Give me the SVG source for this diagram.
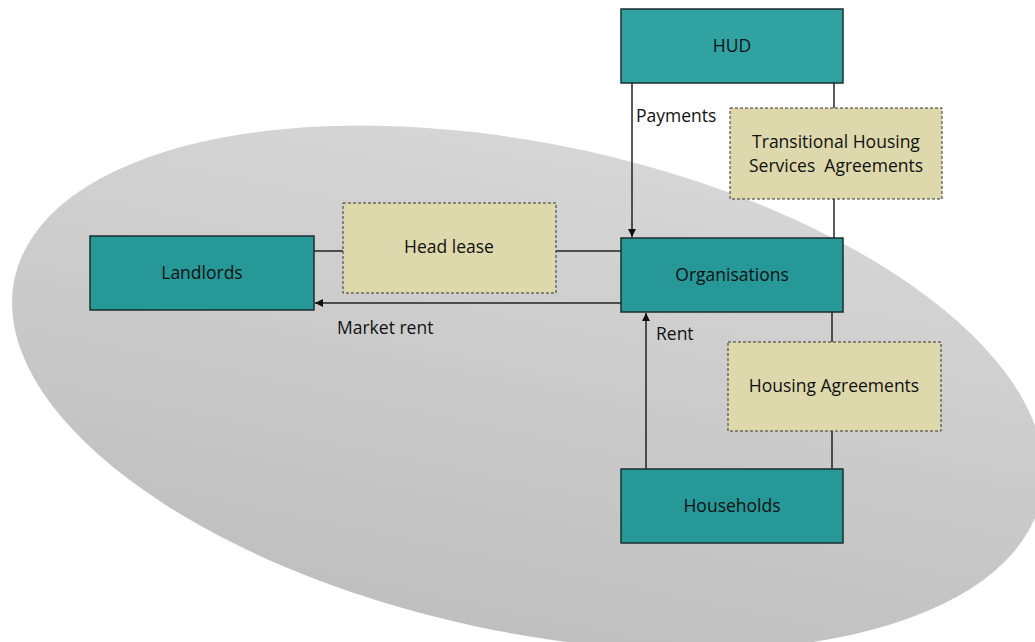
<svg xmlns="http://www.w3.org/2000/svg" width="1035" height="642" viewBox="0 0 1035 642">
<defs>
<linearGradient id="bg" x1="0" y1="0" x2="0" y2="1">
<stop offset="0" stop-color="#d6d6d6"/>
<stop offset="1" stop-color="#bfbfbf"/>
</linearGradient>
<marker id="ah" viewBox="0 0 10 10" refX="10" refY="5" markerWidth="8" markerHeight="8" markerUnits="userSpaceOnUse" orient="auto">
<path d="M0,0 L10,5 L0,10 z" fill="#111"/>
</marker>
<style>
.node{fill:#279898;stroke:#1b2e2e;stroke-width:1.5}
.hud{fill:#31a2a2}
.agr{fill:#ded8ad;stroke:#333;stroke-width:1;stroke-dasharray:3 2}
.t{font-family:"Open Sans","Noto Sans",sans-serif;font-size:17.5px;fill:#111;text-anchor:middle;white-space:pre}
.l{font-family:"Open Sans","Noto Sans",sans-serif;font-size:17.5px;fill:#111}
.c{stroke:#222;stroke-width:1.5;fill:none}
</style>
</defs>
<rect width="1035" height="642" fill="#fff"/>
<ellipse id="region" cx="528" cy="388" rx="525" ry="244" transform="rotate(12 528 388)" fill="url(#bg)"/>
<g id="connectors">
<line class="c" x1="632" y1="83" x2="632" y2="237" marker-end="url(#ah)"/>
<line class="c" x1="834" y1="83" x2="834" y2="238"/>
<line class="c" x1="314" y1="251" x2="621" y2="251"/>
<line class="c" x1="621" y1="303" x2="315" y2="303" marker-end="url(#ah)"/>
<line class="c" x1="646" y1="469" x2="646" y2="313" marker-end="url(#ah)"/>
<line class="c" x1="832" y1="312" x2="832" y2="469"/>
<text class="l" x="636" y="122">Payments</text>
<text class="l" x="337" y="334">Market rent</text>
<text class="l" x="656" y="340">Rent</text>
</g>
<g id="hud"><rect class="node hud" x="621" y="9" width="222" height="74"/><text class="t" x="732" y="52">HUD</text></g>
<g id="landlords"><rect class="node" x="90" y="236" width="224" height="74"/><text class="t" x="202" y="279">Landlords</text></g>
<g id="organisations"><rect class="node" x="621" y="238" width="222" height="74"/><text class="t" x="732" y="281">Organisations</text></g>
<g id="households"><rect class="node" x="621" y="469" width="222" height="74"/><text class="t" x="732" y="512">Households</text></g>
<g id="headlease"><rect class="agr" x="343" y="203" width="213" height="90"/><text class="t" x="449" y="253">Head lease</text></g>
<g id="thsa"><rect class="agr" x="730" y="108" width="212" height="91"/><text class="t" x="836" y="148">Transitional Housing</text><text class="t" x="836" y="172" xml:space="preserve">Services  Agreements</text></g>
<g id="housingagreements"><rect class="agr" x="728" y="342" width="213" height="89"/><text class="t" x="834" y="392">Housing Agreements</text></g>
</svg>
